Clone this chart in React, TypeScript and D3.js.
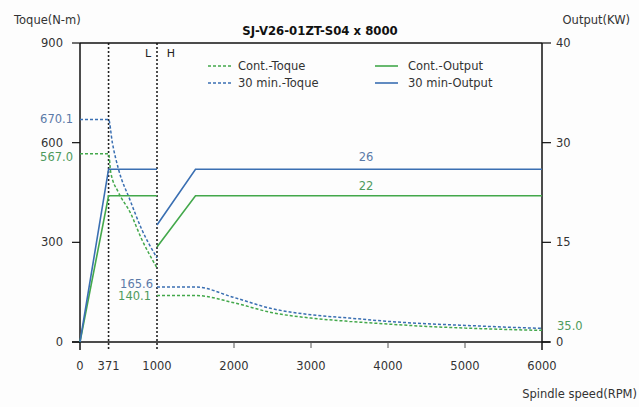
import React from "react";
import * as d3 from "d3";

const W = 639;
const H = 407;

// speeds (rpm) and torque (N-m) / output (kW)
const contToqueL: [number, number][] = [[0, 567.0], [371, 567.0], [400, 510], [500, 450], [650, 391], [800, 310], [1000, 223]];
const min30ToqueL: [number, number][] = [[0, 670.1], [371, 670.1], [420, 600], [500, 520], [650, 427], [800, 340], [1000, 253]];
const contToqueH: [number, number][] = [[1000, 140.1], [1500, 140.1], [2000, 118], [2500, 88], [3000, 72], [3500, 62], [4000, 54], [4500, 47], [5000, 42], [5500, 38], [6000, 35]];
const min30ToqueH: [number, number][] = [[1000, 165.6], [1500, 165.6], [2000, 134], [2500, 100], [3000, 82], [3500, 72], [4000, 62], [4500, 55], [5000, 50], [5500, 45], [6000, 41]];
const contOutputL: [number, number][] = [[0, 0], [371, 22], [1000, 22]];
const contOutputH: [number, number][] = [[1000, 14.3], [1500, 22], [6000, 22]];
const min30OutputL: [number, number][] = [[0, 0], [371, 26], [1000, 26]];
const min30OutputH: [number, number][] = [[1000, 17.6], [1500, 26], [6000, 26]];

const xTicks = [0, 371, 1000, 2000, 3000, 4000, 5000, 6000];
const xMinorTicks = [2000, 3000, 4000, 5000];
const gearLines = [371, 1000];
const leftTicks = [0, 300, 600, 900];
const rightTicks = [0, 15, 30, 45];
const rightTickLabels = ["0", "15", "30", "40"];

const BLUE = "#3a6fb2";
const GREEN = "#43a84b";
const BLUE_T = "#5b7aa8";
const GREEN_T = "#4e9a5c";
const FONT = "'DejaVu Sans', sans-serif";

export default function App() {
  const x = d3.scaleLinear().domain([0, 6000]).range([80, 542]);
  const yT = d3.scaleLinear().domain([0, 900]).range([342, 43]);
  const yP = d3.scaleLinear().domain([0, 45]).range([342, 43]);
  const lineT = d3.line<[number, number]>().x((d) => x(d[0])).y((d) => yT(d[1])).curve(d3.curveMonotoneX);
  const lineP = d3.line<[number, number]>().x((d) => x(d[0])).y((d) => yP(d[1]));

  const [x0, x1] = x.range();
  const yTop = yT(900);
  const yBot = yT(0);

  return (
    <svg width={W} height={H} style={{ position: "absolute", left: 0, top: 0, background: "#fff" }} fontFamily={FONT}>
      <rect width={W} height={H} fill="#fdfdfd" />
      {/* titles */}
      <text x={14} y={24} fontSize={11.5} fill="#333">Toque(N-m)</text>
      <text x={630} y={24} fontSize={11.5} fill="#333" textAnchor="end">Output(KW)</text>
      <text x={320} y={35} fontSize={13} fontWeight="bold" fill="#111" textAnchor="middle" fontFamily="'DejaVu Sans Condensed', 'Liberation Sans Narrow', sans-serif">SJ-V26-01ZT-S04 x 8000</text>

      {/* gear lines */}
      {gearLines.map((g) => (
        <line key={g} x1={x(g)} x2={x(g)} y1={yTop} y2={yBot + 8} stroke="#222" strokeWidth={1.6} strokeDasharray="2,2" />
      ))}
      <text x={x(1000) - 9} y={57} fontSize={11} fill="#222" textAnchor="middle">L</text>
      <text x={x(1000) + 14} y={57} fontSize={11} fill="#222" textAnchor="middle">H</text>

      {/* frame and axes */}
      <line x1={x0} x2={x1} y1={yTop} y2={yTop} stroke="#111" strokeWidth={1.5} />
      <line x1={x0 - 8} x2={x1 + 8} y1={yBot} y2={yBot} stroke="#111" strokeWidth={1.5} />
      <line x1={x0} x2={x0} y1={yTop} y2={yBot + 8} stroke="#111" strokeWidth={1.5} />
      <line x1={x1} x2={x1} y1={yTop} y2={yBot + 8} stroke="#111" strokeWidth={1.5} />

      {leftTicks.map((t) => (
        <g key={"l" + t}>
          <line x1={x0 - 8} x2={x0} y1={yT(t)} y2={yT(t)} stroke="#111" strokeWidth={1.2} />
          <text x={x0 - 17} y={yT(t) + 4} fontSize={11.5} fill="#333" textAnchor="end">{t}</text>
        </g>
      ))}
      {rightTicks.map((t, i) => (
        <g key={"r" + t}>
          <line x1={x1} x2={x1 + 9} y1={yP(t)} y2={yP(t)} stroke="#111" strokeWidth={1.2} />
          <text x={x1 + 14} y={yP(t) + 4} fontSize={11.5} fill="#333">{rightTickLabels[i]}</text>
        </g>
      ))}
      {xMinorTicks.map((t) => (
        <line key={"xt" + t} x1={x(t)} x2={x(t)} y1={yBot} y2={yBot + 6} stroke="#555" strokeWidth={1} />
      ))}
      {xTicks.map((t) => (
        <text key={"xl" + t} x={x(t)} y={370} fontSize={11.5} fill="#333" textAnchor="middle">{t}</text>
      ))}
      <text x={637} y={398} fontSize={11.5} fill="#333" textAnchor="end">Spindle speed(RPM)</text>

      {/* torque curves */}
      <path d={lineT(contToqueL) || ""} fill="none" stroke={GREEN} strokeWidth={1.5} strokeDasharray="3,2" />
      <path d={lineT(min30ToqueL) || ""} fill="none" stroke={BLUE} strokeWidth={1.5} strokeDasharray="3,2" />
      <path d={lineT(contToqueH) || ""} fill="none" stroke={GREEN} strokeWidth={1.5} strokeDasharray="3,2" />
      <path d={lineT(min30ToqueH) || ""} fill="none" stroke={BLUE} strokeWidth={1.5} strokeDasharray="3,2" />

      {/* output lines */}
      <path d={lineP(contOutputL) || ""} fill="none" stroke={GREEN} strokeWidth={1.6} />
      <path d={lineP(contOutputH) || ""} fill="none" stroke={GREEN} strokeWidth={1.6} />
      <path d={lineP(min30OutputL) || ""} fill="none" stroke={BLUE} strokeWidth={1.6} />
      <path d={lineP(min30OutputH) || ""} fill="none" stroke={BLUE} strokeWidth={1.6} />

      {/* value labels */}
      <text x={73} y={yT(min30ToqueL[0][1]) + 4} fontSize={11.5} fill={BLUE_T} textAnchor="end">670.1</text>
      <text x={73} y={yT(contToqueL[0][1]) + 7} fontSize={11.5} fill={GREEN_T} textAnchor="end">567.0</text>
      <text x={153} y={yT(min30ToqueH[0][1]) + 1} fontSize={11.5} fill={BLUE_T} textAnchor="end">165.6</text>
      <text x={151} y={yT(contToqueH[0][1]) + 5} fontSize={11.5} fill={GREEN_T} textAnchor="end">140.1</text>
      <text x={557} y={yT(contToqueH[contToqueH.length - 1][1]) + 0} fontSize={11.5} fill={GREEN_T}>35.0</text>
      <text x={366} y={yP(26) - 8} fontSize={11.5} fill={BLUE_T} textAnchor="middle">26</text>
      <text x={366} y={yP(22) - 6} fontSize={11.5} fill={GREEN_T} textAnchor="middle">22</text>

      {/* legend */}
      <line x1={208} x2={232} y1={66} y2={66} stroke={GREEN} strokeWidth={1.5} strokeDasharray="3,2" />
      <text x={238} y={70} fontSize={11.5} fill="#333">Cont.-Toque</text>
      <line x1={208} x2={232} y1={83} y2={83} stroke={BLUE} strokeWidth={1.5} strokeDasharray="3,2" />
      <text x={238} y={87} fontSize={11.5} fill="#333">30 min.-Toque</text>
      <line x1={375} x2={398} y1={66} y2={66} stroke={GREEN} strokeWidth={1.6} />
      <text x={408} y={70} fontSize={11.5} fill="#333">Cont.-Output</text>
      <line x1={375} x2={398} y1={83} y2={83} stroke={BLUE} strokeWidth={1.6} />
      <text x={408} y={87} fontSize={11.5} fill="#333">30 min-Output</text>
    </svg>
  );
}
